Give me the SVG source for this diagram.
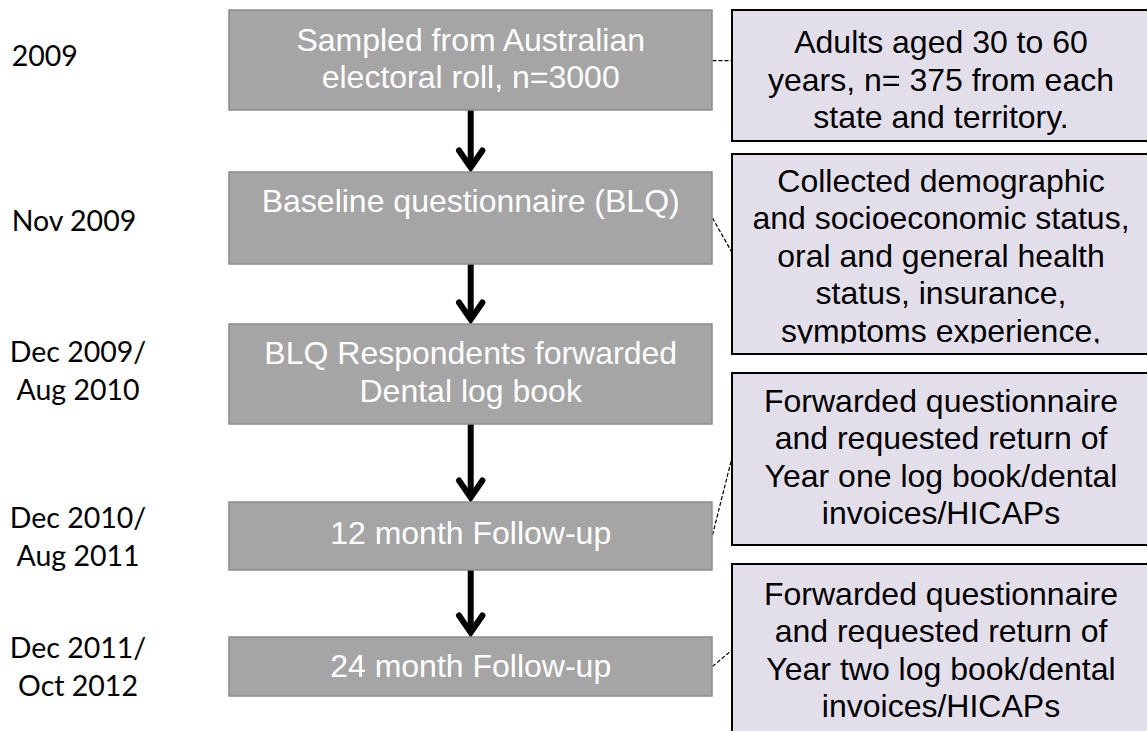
<svg xmlns="http://www.w3.org/2000/svg" width="1147" height="731" viewBox="0 0 1147 731">
<style>
.step rect{fill:#a5a5a5;stroke:#8c8c8c;stroke-width:1.5}
.step text{font-family:"Liberation Sans",Arial,sans-serif;font-size:32px;fill:#ffffff;text-anchor:middle}
.note rect{fill:#e3dfea;stroke:#000000;stroke-width:2}
.note text{font-family:"Liberation Sans",Arial,sans-serif;font-size:32px;fill:#000000;text-anchor:middle}
.date text{font-family:Lato,"Open Sans",sans-serif;font-size:28.5px;fill:#000000}
.shaft{stroke:#000;stroke-width:6;fill:none}
.head{stroke:#000;stroke-width:6;fill:none;stroke-linecap:round;stroke-linejoin:miter}
.dash{stroke:#000;stroke-width:1.2;fill:none;stroke-dasharray:4 2}
</style>
<defs>
<clipPath id="clipB"><rect x="732" y="154" width="420" height="189.5"/></clipPath>
</defs>
<rect x="0" y="0" width="1147" height="731" fill="#ffffff"/>

<g id="dates" class="date">
<text x="11.7" y="65.7">2009</text>
<text x="11.7" y="231">Nov 2009</text>
<text x="78" y="361.5" text-anchor="middle">Dec 2009/</text>
<text x="78" y="399.5" text-anchor="middle">Aug 2010</text>
<text x="78" y="527.5" text-anchor="middle">Dec 2010/</text>
<text x="78" y="565.5" text-anchor="middle">Aug 2011</text>
<text x="78" y="658" text-anchor="middle">Dec 2011/</text>
<text x="78" y="696" text-anchor="middle">Oct 2012</text>
</g>

<g id="connectors">
<line class="shaft" x1="470.7" y1="110" x2="470.7" y2="167.5"/>
<path class="head" d="M459,150.5 L470.7,167.5 L482.4,150.5"/>
<line class="shaft" x1="470.7" y1="264" x2="470.7" y2="319.5"/>
<path class="head" d="M459,302.5 L470.7,319.5 L482.4,302.5"/>
<line class="shaft" x1="470.7" y1="424" x2="470.7" y2="497.5"/>
<path class="head" d="M459,480.5 L470.7,497.5 L482.4,480.5"/>
<line class="shaft" x1="470.7" y1="570" x2="470.7" y2="632.5"/>
<path class="head" d="M459,615.5 L470.7,632.5 L482.4,615.5"/>
<line class="dash" x1="712.5" y1="60.7" x2="732" y2="60.7"/>
<line class="dash" x1="712.5" y1="218" x2="732" y2="252.5"/>
<line class="dash" x1="712.5" y1="535" x2="732" y2="457.5"/>
<line class="dash" x1="712.5" y1="666.5" x2="732" y2="650"/>
</g>

<g id="step1" class="step">
<rect x="229" y="10" width="483" height="100"/>
<text x="470.7" y="50.5">Sampled from Australian</text>
<text x="470.7" y="87.5">electoral roll, n=3000</text>
</g>
<g id="step2" class="step">
<rect x="229" y="172" width="483" height="92"/>
<text x="470.7" y="212.3">Baseline questionnaire (BLQ)</text>
</g>
<g id="step3" class="step">
<rect x="229" y="324" width="483" height="100"/>
<text x="470.7" y="364.3">BLQ Respondents forwarded</text>
<text x="470.7" y="401.7">Dental log book</text>
</g>
<g id="step4" class="step">
<rect x="229" y="502" width="483" height="68"/>
<text x="470.7" y="544">12 month Follow-up</text>
</g>
<g id="step5" class="step">
<rect x="229" y="637" width="483" height="59"/>
<text x="470.7" y="676.7">24 month Follow-up</text>
</g>

<g id="noteA" class="note">
<rect x="732" y="10" width="418" height="131"/>
<text x="941" y="53.3">Adults aged 30 to 60</text>
<text x="941" y="90.7">years, n= 375 from each</text>
<text x="941" y="128.2">state and territory.</text>
</g>
<g id="noteB" class="note">
<rect x="732" y="154" width="418" height="200"/>
<g clip-path="url(#clipB)">
<text x="941" y="191.8">Collected demographic</text>
<text x="941" y="229.3">and socioeconomic status,</text>
<text x="941" y="266.8">oral and general health</text>
<text x="941" y="304.3">status, insurance,</text>
<text x="941" y="341.8">symptoms experience,</text>
</g>
</g>
<g id="noteC" class="note">
<rect x="732" y="373" width="418" height="172"/>
<text x="941" y="412">Forwarded questionnaire</text>
<text x="941" y="449.3">and requested return of</text>
<text x="941" y="486.6">Year one log book/dental</text>
<text x="941" y="523.9">invoices/HICAPs</text>
</g>
<g id="noteD" class="note">
<rect x="732" y="564" width="418" height="180"/>
<text x="941" y="605">Forwarded questionnaire</text>
<text x="941" y="642.3">and requested return of</text>
<text x="941" y="679.6">Year two log book/dental</text>
<text x="941" y="716.9">invoices/HICAPs</text>
</g>
</svg>
